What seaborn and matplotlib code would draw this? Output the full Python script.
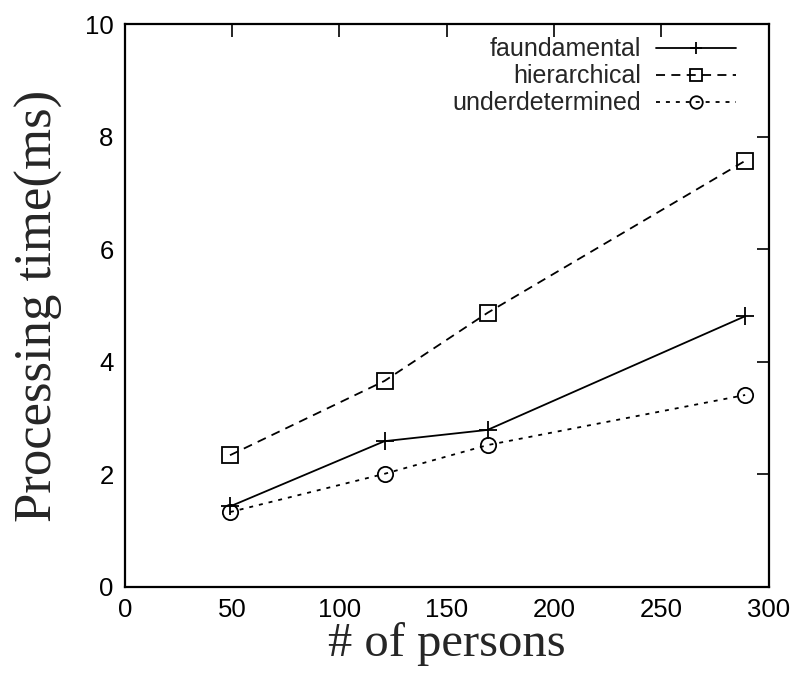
import matplotlib
matplotlib.use("Agg")
import matplotlib.pyplot as plt
import seaborn as sns
import pandas as pd

persons = [49, 121, 169, 289]
fundamental = [1.43, 2.59, 2.79, 4.81]
hierarchical = [2.34, 3.66, 4.87, 7.57]
underdetermined = [1.33, 2.01, 2.52, 3.41]
labels = ["faundamental", "hierarchical", "underdetermined"]
xticks = [0, 50, 100, 150, 200, 250, 300]
yticks = [0, 2, 4, 6, 8, 10]

sns.set_style("white")
plt.rcParams["font.family"] = ["Liberation Sans", "DejaVu Sans"]

fig = plt.figure(figsize=(7.95, 6.77), dpi=100)
ax = fig.add_axes([0.157, 0.133, 0.81, 0.8315])

series = [fundamental, hierarchical, underdetermined]
styles = [
    dict(linestyle="-", marker="+", markersize=13, markerfacecolor="none"),
    dict(linestyle=(0, (5, 3.5)), marker="s", markersize=11, markerfacecolor="none"),
    dict(linestyle=(0, (2.2, 3.3)), marker="o", markersize=11, markerfacecolor="none"),
]
for lab, vals, st in zip(labels, series, styles):
    df = pd.DataFrame({"x": persons, "y": vals})
    sns.lineplot(data=df, x="x", y="y", ax=ax, color="black", linewidth=1.3,
                 markeredgewidth=1.3, markeredgecolor="black", label=lab, **st)

ax.set_xlim(0, 300)
ax.set_ylim(0, 10)
ax.set_xticks(xticks)
ax.set_yticks(yticks)
ax.tick_params(axis="both", direction="in", length=9, width=1.2, labelsize=18.5,
               top=True, right=True, pad=8, colors="black")
for s in ax.spines.values():
    s.set_linewidth(1.6)
    s.set_color("black")

ax.set_xlabel("# of persons", fontsize=35, family=["Liberation Serif", "DejaVu Serif"], labelpad=0)
ax.set_ylabel("Processing time(ms)", fontsize=38, family=["Liberation Serif", "DejaVu Serif"], labelpad=16)

leg = ax.legend(loc="upper right", bbox_to_anchor=(1.0, 1.034), frameon=False, markerfirst=False,
                fontsize=18, handlelength=3.2, borderaxespad=0.9, labelspacing=0.12,
                handletextpad=0.6)
for h in leg.legend_handles:
    h.set_markersize(9)

fig.savefig("out.png", dpi=100)
